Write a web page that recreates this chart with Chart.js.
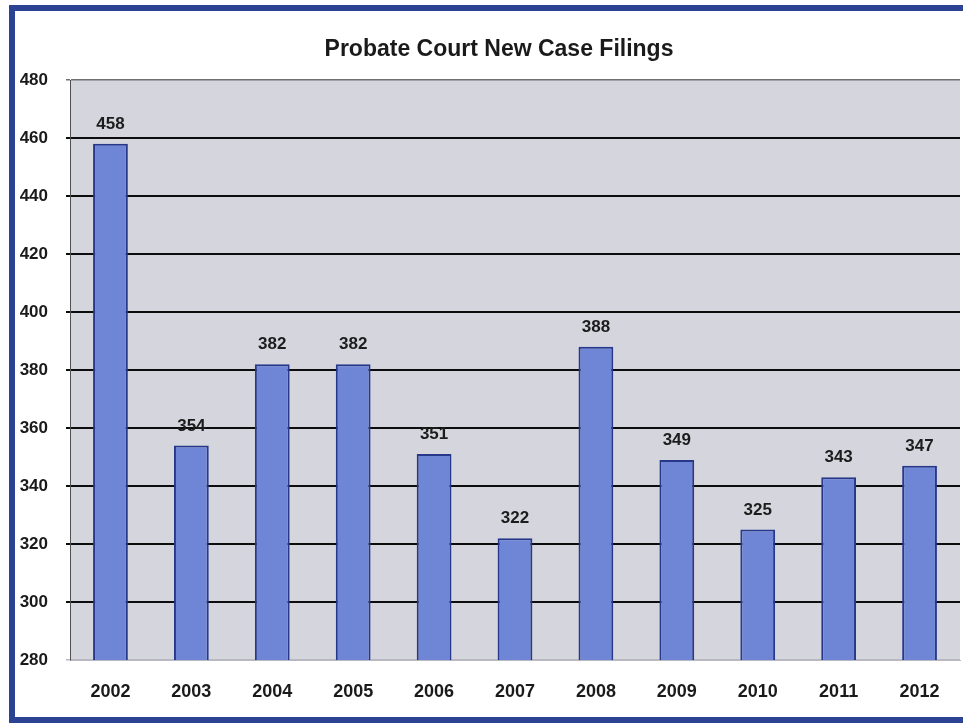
<!DOCTYPE html>
<html>
<head>
<meta charset="utf-8">
<style>
  html, body { margin: 0; padding: 0; background: #ffffff; }
  #wrap { position: relative; width: 963px; height: 726px; }
  canvas { display: block; }
</style>
<script src="https://cdn.jsdelivr.net/npm/chart.js@4/dist/chart.umd.min.js"></script>
</head>
<body>
<div id="wrap"><canvas id="c" width="963" height="726"></canvas></div>
<script>
const titleText = "Probate Court New Case Filings";
const categories = ["2002", "2003", "2004", "2005", "2006", "2007", "2008", "2009", "2010", "2011", "2012"];
const filings = [458, 354, 382, 382, 351, 322, 388, 349, 325, 343, 347];
const yMin = 280, yMax = 480, yStep = 20;

const FONT = "'Liberation Sans', Arial, sans-serif";

const framePlugin = {
  id: 'frame',
  beforeDraw(chart) {
    const ctx = chart.ctx;
    const a = chart.chartArea;
    ctx.save();
    ctx.fillStyle = '#ffffff';
    ctx.fillRect(0, 0, chart.width, chart.height);
    // outer blue frame
    ctx.strokeStyle = '#2c4394';
    ctx.lineWidth = 6;
    ctx.strokeRect(12, 8, chart.width + 10, chart.height - 14);
    // plot area background
    ctx.fillStyle = '#d5d5de';
    ctx.fillRect(a.left, a.top, a.right - a.left, a.bottom - a.top);
    // title
    ctx.font = "bold 23px " + FONT;
    ctx.fillStyle = '#1a1a1a';
    ctx.textAlign = 'center';
    ctx.textBaseline = 'middle';
    ctx.fillText(titleText, 499, 50);
    ctx.restore();
  }
};

const labelPlugin = {
  id: 'valueLabels',
  afterDatasetsDraw(chart) {
    const ctx = chart.ctx;
    const meta = chart.getDatasetMeta(0);
    ctx.save();
    ctx.font = "bold 17px " + FONT;
    ctx.fillStyle = '#1c1c1c';
    ctx.textAlign = 'center';
    ctx.textBaseline = 'bottom';
    meta.data.forEach((bar, i) => {
      ctx.fillText(String(filings[i]), bar.x, bar.y - 11);
    });
    ctx.restore();
  }
};

new Chart(document.getElementById('c'), {
  type: 'bar',
  data: {
    labels: categories,
    datasets: [{
      data: filings,
      backgroundColor: '#6f86d6',
      borderColor: '#27388a',
      borderWidth: 2,
      borderSkipped: 'bottom',
      categoryPercentage: 1.0,
      barPercentage: 0.43
    }]
  },
  options: {
    responsive: false,
    animation: false,
    layout: { padding: { top: 80, left: 0, right: 3, bottom: 0 } },
    plugins: {
      legend: { display: false },
      tooltip: { enabled: false },
      title: { display: false }
    },
    scales: {
      x: {
        afterFit(scale) { scale.height = 66; },
        grid: { display: false },
        border: { display: true, color: '#b8b8c0', width: 1 },
        ticks: {
          color: '#1a1a1a',
          padding: 13,
          font: { family: FONT, size: 18, weight: 'bold' }
        }
      },
      y: {
        min: yMin,
        max: yMax,
        afterFit(scale) { scale.width = 70; },
        border: { display: true, color: '#505050', width: 1 },
        grid: {
          color(ctx) {
            if (ctx.tick && ctx.tick.value === yMax) return '#707070';
            if (ctx.tick && ctx.tick.value === yMin) return '#b8b8c0';
            return '#0c0c0c';
          },
          lineWidth(ctx) {
            if (ctx.tick && (ctx.tick.value === yMax || ctx.tick.value === yMin)) return 1.5;
            return 2;
          },
          tickLength: 4
        },
        ticks: {
          stepSize: yStep,
          color: '#1a1a1a',
          padding: 18,
          font: { family: FONT, size: 17, weight: 'bold' }
        }
      }
    }
  },
  plugins: [framePlugin, labelPlugin]
});
</script>
</body>
</html>
